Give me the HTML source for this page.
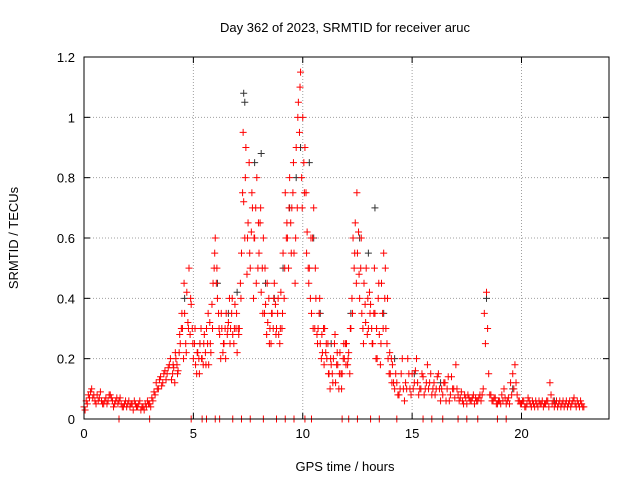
<!DOCTYPE html>
<html><head><meta charset="utf-8"><style>
body{margin:0;background:#fff}
svg{display:block;font-family:"Liberation Sans",sans-serif;font-size:13px}
</style></head><body>
<svg id="chart" width="640" height="480" viewBox="0 0 640 480">
<rect width="640" height="480" fill="#fff"/>
<text x="345" y="32" text-anchor="middle">Day 362 of 2023, SRMTID for receiver aruc</text>
<text x="345" y="471" text-anchor="middle">GPS time / hours</text>
<text transform="translate(18,238) rotate(-90)" text-anchor="middle">SRMTID / TECUs</text>
<g id="grid"></g><g id="ticks"></g><g id="marks"></g>
<rect x="84" y="57" width="525" height="362" fill="none" stroke="#000"/>
</svg>
<script>
const xTicks=[0,5,10,15,20];
const yTicks=[0,0.2,0.4,0.6,0.8,1,1.2];
const yTickLabels=["0","0.2","0.4","0.6","0.8","1","1.2"];
const redA=[.04,.06,.08,.09,.07,.06,.08,.07,.06,.05,.07,.06,.08,.06,.05,.07,.06,.05,.04,.06,.05,.04,.05,.06,.04,.05,.03,.04,.05,.06,
.05,.07,.09,.12,.1,.14,.12,.16,.15,.18,.13,.17,.2,.16,.25,.3,.35,.42,.5,.38,
.2,.18,.22,.25,.2,.28,.3,.18,.22,.45,.6,.4,.28,.3,.25,.35,.32,.3,.28,.38,
.22,.3,.55,.72,.9,.65,.5,.7,.6,.8,.55,.42,.6,.38,.32,.3,.35,.45,.3,.28,
.42,.55,.75,.6,.8,.7,.55,.9,1.05,1.15,1.0,.9,.62,.5,.35,.7,.4,.3,.25,.22,
.3,.2,.15,.18,.2,.12,.18,.22,.15,.2,.25,.22,.3,.6,.65,.55,.4,.35,.45,.5,
.3,.38,.25,.35,.2,.28,.45,.55,.3,.2,.15,.18,.1,.12,.08,.15,.1,.12,.2,.1,
.15,.12,.2,.08,.1,.14,.1,.18,.12,.08,.12,.1,.15,.06,.08,.12,.1,.06,.14,.1,
.18,.08,.07,.06,.08,.05,.07,.06,.08,.07,.06,.08,.08,.35,.42,.15,.08,.06,.07,.05,
.06,.08,.1,.05,.07,.12,.15,.18,.08,.06,.05,.06,.04,.07,.05,.06,.04,.05,.06,.05,
.04,.05,.06,.12,.05,.04,.06,.05,.04,.06,.05,.04,.06,.05,.07,.04,.05,.06,.04];
const redB=[.03,.05,.07,.1,.08,.05,.06,.09,.05,.06,.05,.08,.07,.04,.06,.05,.07,.04,.05,.04,.06,.05,.03,.05,.04,.06,.04,.03,.04,.05,
.04,.06,.08,.1,.13,.11,.15,.13,.17,.2,.15,.12,.18,.22,.3,.2,.25,.32,.28,.3,
.25,.15,.2,.3,.18,.22,.25,.32,.38,.5,.45,.35,.2,.22,.3,.28,.4,.35,.25,.3,
.3,.45,.75,.6,.48,.85,.62,.4,.7,.5,.65,.5,.35,.28,.4,.25,.3,.38,.35,.25,
.3,.4,.6,.5,.65,.75,.45,.7,.95,.8,.85,.75,.5,.4,.6,.3,.28,.35,.2,.3,
.22,.25,.1,.15,.25,.18,.1,.15,.2,.25,.18,.15,.4,.5,.45,.62,.5,.3,.38,.28,
.42,.3,.35,.2,.4,.18,.35,.4,.25,.15,.2,.12,.15,.08,.1,.2,.06,.1,.15,.08,
.1,.16,.12,.1,.15,.08,.12,.1,.15,.1,.08,.14,.1,.1,.12,.06,.14,.08,.1,.07,
.1,.06,.09,.05,.07,.08,.06,.07,.05,.06,.07,.06,.1,.25,.3,.08,.06,.07,.05,.06,
.05,.06,.07,.06,.05,.08,.1,.12,.06,.05,.06,.04,.05,.06,.04,.05,.06,.04,.05,.06,
.05,.06,.04,.08,.06,.05,.04,.06,.05,.04,.06,.05,.04,.06,.05,.06,.04,.05,.04];
const redCStart=4.0;
const redC=[.18,.22,.15,.28,.35,.45,.22,.3,.4,.25,
.3,.22,.15,.2,.25,.18,.35,.25,.3,.55,
.5,.3,.35,.25,.2,.3,.25,.4,.3,.35,
.28,.4,.95,.8,.6,.55,.75,.6,.45,.65,
.7,.35,.5,.45,.25,.35,.4,.28,.4,.3,
.35,.5,.65,.7,.55,.85,.6,1.0,1.1,.7,
.75,.55,.45,.6,.3,.5,.25,.4,.28,.18,
.25,.15,.2,.12,.28,.22,.15,.1,.25,.18,
.2,.3,.35,.55,.75,.48,.6,.25,.32,.4,
.35,.25,.5,.3,.45,.25,.3,.5,.4,.22,.12];
const blackT=[4.6,5.3,6.1,6.6,7.0,7.3,7.35,7.8,8.1,8.3,8.7,9.1,9.4,9.7,9.9,10.3,10.5,10.8,11.3,12.2,12.6,13.0,13.3,13.7,14.2,15.1,16.3,18.4,19.6,21.5];
const blackV=[.4,.25,.45,.35,.42,1.08,1.05,.85,.88,.45,.4,.5,.7,.8,.9,.85,.6,.35,.25,.35,.6,.55,.7,.35,.2,.15,.12,.4,.1,.06];
const zeroT=[1.6,3.0,4.9,5.4,5.6,6.0,6.2,6.8,7.2,7.6,8.2,8.8,9.2,9.6,10.1,10.4,11.8,12.1,12.5,13.1,13.5,14.3,15.5,15.9,16.4,17.1,17.5,18.0,18.9,19.3];
const X0=84,X1=609,Y0=419,Y1=57;
const xs=v=>X0+(v/24)*(X1-X0);
const ys=v=>Y0-(v/1.2)*(Y0-Y1);
const NS="http://www.w3.org/2000/svg";
const grid=document.getElementById('grid'),ticks=document.getElementById('ticks'),marks=document.getElementById('marks');
function mk(tag,attrs,parent){const e=document.createElementNS(NS,tag);for(const k in attrs)e.setAttribute(k,attrs[k]);parent.appendChild(e);return e;}
xTicks.forEach(t=>{
  const x=xs(t);
  if(t>0){const g=mk('line',{x1:x,x2:x,y1:Y0,y2:Y1,stroke:'#a0a0a0','stroke-dasharray':'1,2'},grid);
  
  }
  mk('line',{x1:x,x2:x,y1:Y0,y2:Y0-6,stroke:'#000'},ticks);
  mk('line',{x1:x,x2:x,y1:Y1,y2:Y1+6,stroke:'#000'},ticks);
  const l=mk('text',{x:x,y:Y0+19,'text-anchor':'middle'},ticks);l.textContent=t;
  
  
});
yTicks.forEach((t,i)=>{
  const y=ys(t);
  if(t>0&&t<1.2){const g=mk('line',{x1:X0,x2:X1,y1:y,y2:y,stroke:'#a0a0a0','stroke-dasharray':'1,2'},grid);
  
  }
  mk('line',{x1:X0,x2:X0+6,y1:y,y2:y,stroke:'#000'},ticks);
  mk('line',{x1:X1,x2:X1-6,y1:y,y2:y,stroke:'#000'},ticks);
  const l=mk('text',{x:X0-9,y:y+5,'text-anchor':'end'},ticks);l.textContent=yTickLabels[i];
  
  
});
function plus(t,v,c,name){
  const x=xs(t),y=ys(v);
  const p=mk('path',{d:`M${x-3.5},${y}h7M${x},${y-3.5}v7`,stroke:c,'stroke-width':1,fill:'none'},marks);
  
  
}
blackT.forEach((t,i)=>plus(t,blackV[i],'#333','black-point'));
redA.forEach((v,i)=>plus(i*0.1,v,'#f00','red-point'));
redB.forEach((v,i)=>plus(i*0.1+0.05,v,'#f00','red-point'));
redC.forEach((v,i)=>plus(redCStart+i*0.1+0.075,v,'#f00','red-point'));
zeroT.forEach(t=>plus(t,0,'#f00','red-point-zero'));
</script>
</body></html>
